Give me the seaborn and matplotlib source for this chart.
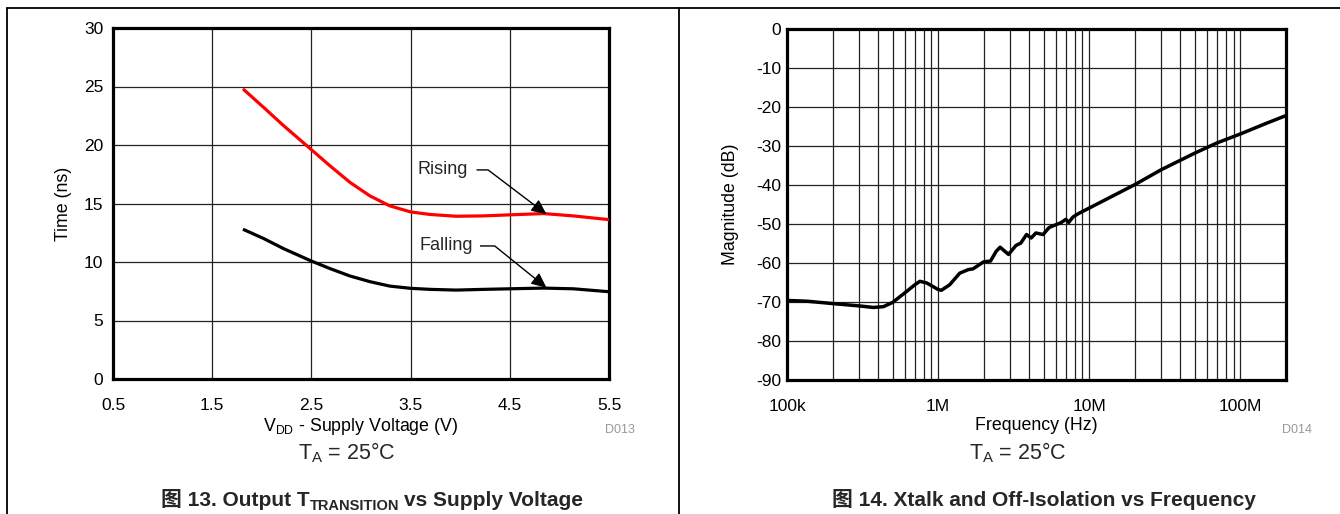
import matplotlib
matplotlib.use("Agg")
import matplotlib.pyplot as plt
import seaborn as sns
import pandas as pd
import numpy as np
from matplotlib.lines import Line2D
from matplotlib.ticker import FixedLocator, FixedFormatter, NullFormatter, LogLocator

# ---------------- data ----------------
vdd = [1.81, 2.02, 2.22, 2.5, 2.69, 2.89, 3.09, 3.29, 3.5, 3.70, 3.96, 4.23, 4.5, 4.84, 5.14, 5.5]
rising = [24.8, 23.2, 21.65, 19.6, 18.2, 16.8, 15.65, 14.8, 14.28, 14.06, 13.91, 13.94, 14.03, 14.14, 13.94, 13.62]
falling = [12.8, 12.0, 11.14, 10.08, 9.43, 8.8, 8.32, 7.94, 7.75, 7.66, 7.6, 7.66, 7.71, 7.77, 7.71, 7.46]

freq = [1e5, 1.36e5, 2e5, 3e5, 3.73e5, 4.34e5, 5e5, 6e5, 7e5, 7.57e5, 8.38e5, 1e6, 1.05e6,
        1.19e6, 1.39e6, 1.58e6, 1.7e6, 2e6, 2.22e6, 2.42e6, 2.57e6, 2.92e6, 3.27e6, 3.52e6,
        3.84e6, 4.12e6, 4.43e6, 4.94e6, 5.42e6, 6.0e6, 6.47e6, 7.0e6, 7.3e6, 7.8e6, 8.5e6,
        1e7, 2e7, 3e7, 5e7, 7e7, 1e8, 1.5e8, 2e8]
mag = [-69.6, -69.8, -70.4, -71.0, -71.4, -71.2, -70.1, -67.7, -65.6, -64.7, -65.1, -66.8, -67.0,
       -65.6, -62.6, -61.7, -61.5, -59.7, -59.5, -57.0, -55.95, -57.8, -55.5, -54.9,
       -52.7, -53.6, -52.3, -52.7, -50.9, -50.2, -49.7, -48.8, -49.6, -48.2, -47.3,
       -45.9, -39.9, -36.05, -31.8, -29.2, -26.9, -24.1, -22.2]

left_xticks = [0.5, 1.5, 2.5, 3.5, 4.5, 5.5]
left_yticks = [0, 5, 10, 15, 20, 25, 30]
right_xticks = [1e5, 1e6, 1e7, 1e8]
right_xlabels = ["100k", "1M", "10M", "100M"]
right_yticks = [0, -10, -20, -30, -40, -50, -60, -70, -80, -90]

# ---------------- style ----------------
sns.set_theme(style="white")
plt.rcParams["font.family"] = ["Liberation Sans", "Noto Sans CJK SC", "DejaVu Sans"]
plt.rcParams["mathtext.fontset"] = "custom"
plt.rcParams["mathtext.rm"] = "Liberation Sans"
plt.rcParams["mathtext.it"] = "Liberation Sans:italic"
plt.rcParams["mathtext.bf"] = "Liberation Sans:bold"
plt.rcParams["axes.unicode_minus"] = False

fig = plt.figure(figsize=(13.4, 5.14), dpi=100)
W, H = 1340, 514

def axrect(x0, y0, x1, y1):
    return [x0 / W, 1 - y1 / H, (x1 - x0) / W, (y1 - y0) / H]

ax1 = fig.add_axes(axrect(113, 28, 609, 379))
ax2 = fig.add_axes(axrect(787, 29, 1286, 380))

grid_kw = dict(color="#222222", linewidth=0.9)
tick_fs = 12.5
label_fs = 12.8

# ---------- left chart ----------
df1 = pd.DataFrame({"V": vdd + vdd, "t": rising + falling,
                    "series": ["Rising"] * len(vdd) + ["Falling"] * len(vdd)})
sns.lineplot(data=df1, x="V", y="t", hue="series", palette={"Rising": "#ff0000", "Falling": "#000000"},
             linewidth=2.3, legend=False, ax=ax1, sort=False, zorder=3,
             solid_joinstyle="round", solid_capstyle="butt")
ax1.set_xlim(0.5, 5.5)
ax1.set_ylim(0, 30)
ax1.set_xticks(left_xticks)
ax1.set_xticklabels([f"{v:.1f}" for v in left_xticks])
ax1.set_yticks(left_yticks)
ax1.grid(True, **grid_kw)
ax1.set_axisbelow(True)
ax1.tick_params(axis="both", length=0, labelsize=tick_fs, colors="black")
ax1.tick_params(axis="x", pad=14)
ax1.tick_params(axis="y", pad=7)
ax1.set_xlabel(r"V$_{\mathrm{DD}}$ - Supply Voltage (V)", fontsize=label_fs, labelpad=2, color="black")
ax1.set_ylabel("Time (ns)", fontsize=label_fs, color="black")
ax1.yaxis.set_label_coords(-0.082, 0.5)

def arrow_props(angle_b, shrink_a):
    return dict(arrowstyle="-|>,head_length=0.7,head_width=0.32", color="black", lw=1.0,
                shrinkA=shrink_a, shrinkB=0,
                connectionstyle=f"angle,angleA=0,angleB={angle_b},rad=0",
                relpos=(1.0, 0.5))

ax1.annotate("Rising", xy=(4.87, 14.08), xytext=(4.08, 17.87), ha="right", va="center",
             fontsize=13, arrowprops=arrow_props(142.8, 4), zorder=4)
ax1.annotate("Falling", xy=(4.87, 7.8), xytext=(4.13, 11.37), ha="right", va="center",
             fontsize=13, arrowprops=arrow_props(141.1, 0), zorder=4,
             bbox=dict(boxstyle="square,pad=0.38", fc="white", ec="none"))

# ---------- right chart ----------
df2 = pd.DataFrame({"f": freq, "m": mag})
sns.lineplot(data=df2, x="f", y="m", color="black", linewidth=2.5, ax=ax2, zorder=3,
             solid_joinstyle="round")
ax2.set_xscale("log")
ax2.set_xlim(1e5, 2e8)
ax2.set_ylim(-90, 0)
ax2.xaxis.set_major_locator(FixedLocator(right_xticks))
ax2.xaxis.set_major_formatter(FixedFormatter(right_xlabels))
ax2.xaxis.set_minor_locator(LogLocator(base=10, subs=np.arange(2, 10)))
ax2.xaxis.set_minor_formatter(NullFormatter())
ax2.set_yticks(right_yticks)
ax2.grid(True, which="both", **grid_kw)
ax2.set_axisbelow(True)
ax2.tick_params(axis="both", which="both", length=0, labelsize=tick_fs, colors="black")
ax2.tick_params(axis="x", pad=14)
ax2.tick_params(axis="y", pad=4)
ax2.set_xlabel("Frequency (Hz)", fontsize=label_fs, labelpad=2, color="black")
ax2.set_ylabel("Magnitude (dB)", fontsize=label_fs, color="black")
ax2.yaxis.set_label_coords(-0.097, 0.5)

for ax in (ax1, ax2):
    for s in ax.spines.values():
        s.set_linewidth(2.3)
        s.set_color("black")
        s.set_visible(True)

# ---------- figure texts ----------
fig.text(347 / W, 1 - 453 / H, r"T$_{\mathrm{A}}$ = 25°C", ha="center", va="center", fontsize=15.5)
fig.text(1018 / W, 1 - 453 / H, r"T$_{\mathrm{A}}$ = 25°C", ha="center", va="center", fontsize=15.5)
fig.text(620 / W, 1 - 430 / H, "D013", ha="center", va="center", fontsize=9, color="#999999")
fig.text(1297 / W, 1 - 430 / H, "D014", ha="center", va="center", fontsize=9, color="#999999")

renderer = fig.canvas.get_renderer()

def multi_text(xc_px, base_px, parts):
    """parts: list of (text, fontsize, dy_px, gap_before_px)"""
    objs = []
    widths = []
    for s, fs, dy, gap in parts:
        t = fig.text(0, 0, s, fontsize=fs, fontweight="bold", ha="left", va="baseline")
        objs.append(t)
        widths.append(t.get_window_extent(renderer).width)
    total = sum(widths) + sum(p[3] for p in parts)
    x = xc_px - total / 2
    for t, w, (s, fs, dy, gap) in zip(objs, widths, parts):
        x += gap
        t.set_position((x / W, 1 - (base_px + dy) / H))
        x += w

multi_text(372, 506, [("图 13. Output T", 15, 0, 0), ("TRANSITION", 10.5, 4, 0),
                      ("vs Supply Voltage", 15, 0, 4.5)])
multi_text(1044, 506, [("图 14. Xtalk and Off-Isolation vs Frequency", 15, 0, 0)])

# ---------- frame lines ----------
fig.add_artist(Line2D([7 / W, 1.0], [1 - 8 / H, 1 - 8 / H], color="black", lw=1.3))
fig.add_artist(Line2D([7 / W, 7 / W], [0, 1 - 8 / H], color="black", lw=1.3))
fig.add_artist(Line2D([679 / W, 679 / W], [0, 1 - 8 / H], color="black", lw=1.3))

fig.savefig("out.png", dpi=100)
